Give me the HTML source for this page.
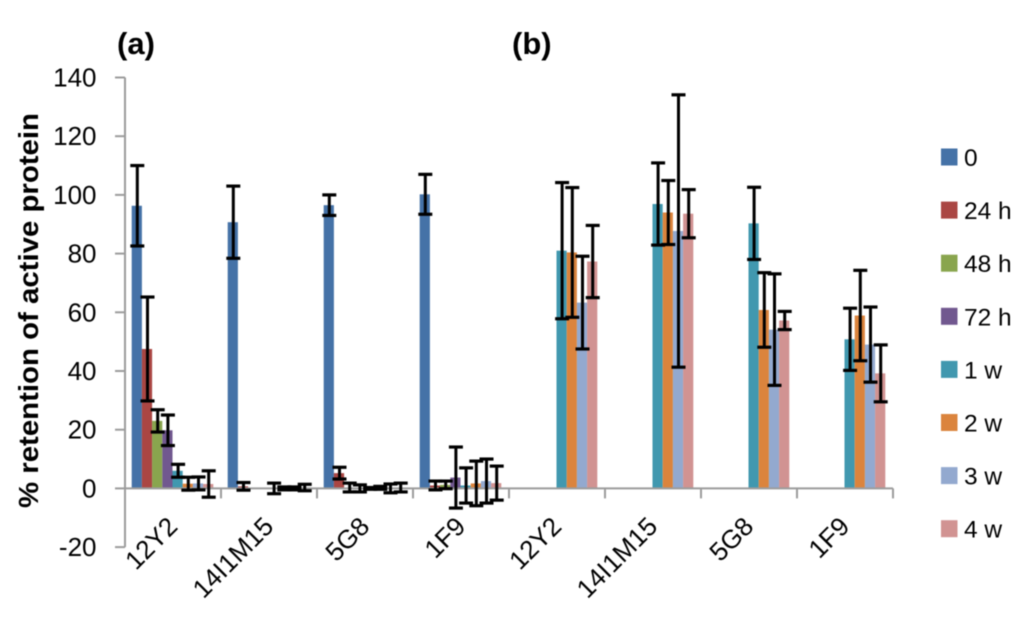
<!DOCTYPE html>
<html lang="en">
<head>
<meta charset="utf-8">
<title>Retention of active protein</title>
<style>
html,body{margin:0;padding:0;background:#fff;}
body{width:1024px;height:619px;overflow:hidden;}
svg{display:block;font-family:"Liberation Sans",sans-serif;filter:blur(.4px);}
text{fill:#000;}
.s0{fill:#4572A7}.s1{fill:#AA4643}.s2{fill:#89A54E}.s3{fill:#71588F}
.s4{fill:#4198AF}.s5{fill:#DB843D}.s6{fill:#93A9CF}.s7{fill:#D19392}
.axis{stroke:#9c9c9c;stroke-width:2;fill:none;}
.err{stroke:#000;fill:none;}
</style>
</head>
<body>
<svg id="chart" xmlns="http://www.w3.org/2000/svg" width="1024" height="619" viewBox="0 0 1024 619">
  <text x="117" y="54" font-size="31" font-weight="bold">(a)</text>
  <text x="512" y="54" font-size="31" font-weight="bold">(b)</text>
  <text transform="translate(38,508) rotate(-90)" font-size="28" font-weight="bold" textLength="395" lengthAdjust="spacingAndGlyphs">% retention of active protein</text>
</svg>
<script>
const categories = ['12Y2', '14I1M15', '5G8', '1F9', '12Y2', '14I1M15', '5G8', '1F9'];
const seriesNames = ['0', '24 h', '48 h', '72 h', '1 w', '2 w', '3 w', '4 w'];
const yTickValues = [-20, 0, 20, 40, 60, 80, 100, 120, 140];

const values0h  = [96.3, 90.7, 96.5, 100.2, null, null, null, null];
const values24h = [47.5, 0.7, 5.2, 1, null, null, null, null];
const values48h = [23, null, 0.3, 1.2, null, null, null, null];
const values72h = [19.8, null, 0, 3.7, null, null, null, null];
const values1w  = [6, 0, 0, 1, 81, 96.9, 90.3, 50.8];
const values2w  = [1.6, 0, 0.2, 1.7, 80.4, 94, 60.8, 58.9];
const values3w  = [1.7, 0, 0, 2.5, 63.3, 87.7, 54.1, 49];
const values4w  = [1.5, 0.3, 0.3, 1.8, 77.3, 93.6, 57.2, 39.2];

const errors0h  = [13.7, 12.3, 3.5, 6.8, null, null, null, null];
const errors24h = [17.7, 1.3, 2, 1.5, null, null, null, null];
const errors48h = [3.8, null, 1.5, 1.3, null, null, null, null];
const errors72h = [5.2, null, 1.2, 10.4, null, null, null, null];
const errors1w  = [2.2, 1.8, 0.3, 6, 23.2, 14, 12.3, 10.6];
const errors2w  = [2.2, 0.5, 0.5, 7.6, 22.1, 10.9, 12.7, 15.4];
const errors3w  = [2.2, 0.5, 1.5, 7.5, 15.8, 46.4, 19, 12.8];
const errors4w  = [4.5, 1.1, 1.5, 5.8, 12.3, 8.2, 3.1, 9.7];

const allValues = [values0h, values24h, values48h, values72h, values1w, values2w, values3w, values4w];
const allErrors = [errors0h, errors24h, errors48h, errors72h, errors1w, errors2w, errors3w, errors4w];

const NS = 'http://www.w3.org/2000/svg';
const svg = document.getElementById('chart');
const plotLeft = 125, plotRight = 893, yZero = 488.4, pxPerUnit = 2.935;
const catWidth = (plotRight - plotLeft) / categories.length;
const barWidth = 10.2, groupPad = 6.7;

function yScale(v) { return yZero - v * pxPerUnit; }
function xCat(c) { return plotLeft + c * catWidth; }
function xBar(c, s) { return xCat(c) + groupPad + s * barWidth; }

function mk(tag, attrs, text) {
  const el = document.createElementNS(NS, tag);
  for (const k in attrs) el.setAttribute(k, attrs[k]);
  if (text !== undefined) el.textContent = text;
  return el;
}

/* bars */
allValues.forEach(function (vals, s) {
  vals.forEach(function (v, c) {
    if (v === null) return;
    const y0 = yScale(Math.max(v, 0)), y1 = yScale(Math.min(v, 0));
    const el = mk('rect', { x: xBar(c, s), y: y0, width: barWidth, height: y1 - y0, class: 's' + s });
    
    
    svg.appendChild(el);
  });
});

/* axes */
const yAxis = mk('line', { x1: plotLeft, x2: plotLeft, y1: yScale(140), y2: yScale(-20), class: 'axis' });


svg.appendChild(yAxis);

const xAxis = mk('line', { x1: plotLeft, x2: plotRight, y1: yScale(0), y2: yScale(0), class: 'axis' });


svg.appendChild(xAxis);

yTickValues.forEach(function (t) {
  const tick = mk('line', { x1: plotLeft - 10, x2: plotLeft, y1: yScale(t), y2: yScale(t), class: 'axis', 'stroke-width': 1.5 });
  
  
  svg.appendChild(tick);
  const lab = mk('text', { x: 96.5, y: yScale(t) + 9, 'text-anchor': 'end', 'font-size': 26 }, String(t));
  
  
  svg.appendChild(lab);
});

categories.forEach(function (name, c) {
  const tick = mk('line', { x1: xCat(c + 1), x2: xCat(c + 1), y1: yScale(0), y2: yScale(0) + 10, class: 'axis' });
  
  
  svg.appendChild(tick);
  const ax = xCat(c) + catWidth / 2 + 6, ay = 528;
  const lab = mk('text', { x: 0, y: 0, 'text-anchor': 'end', 'font-size': 26, transform: 'translate(' + ax + ',' + ay + ') rotate(-45)' }, name);
  
  
  svg.appendChild(lab);
});

/* error bars */
allValues.forEach(function (vals, s) {
  vals.forEach(function (v, c) {
    const e = allErrors[s][c];
    if (v === null || e === null) return;
    const cx = xBar(c, s) + barWidth / 2 + 0.5;
    const hi = yScale(v + e), lo = yScale(v - e);
    const g = mk('g', { class: 'err' });
    
    
    g.appendChild(mk('line', { x1: cx, x2: cx, y1: hi, y2: lo, 'stroke-width': 3 }));
    g.appendChild(mk('line', { x1: cx - 7, x2: cx + 7, y1: hi, y2: hi, 'stroke-width': 3.2 }));
    g.appendChild(mk('line', { x1: cx - 7, x2: cx + 7, y1: lo, y2: lo, 'stroke-width': 3.2 }));
    svg.appendChild(g);
  });
});

/* legend */
seriesNames.forEach(function (name, s) {
  const cy = 157 + s * 53.1;
  const g = mk('g', {});
  
  
  g.appendChild(mk('rect', { x: 941, y: cy - 8.5, width: 16.5, height: 17, class: 's' + s }));
  g.appendChild(mk('text', { x: 964, y: cy + 9, 'font-size': 24.5 }, name));
  svg.appendChild(g);
});
</script>
</body>
</html>
